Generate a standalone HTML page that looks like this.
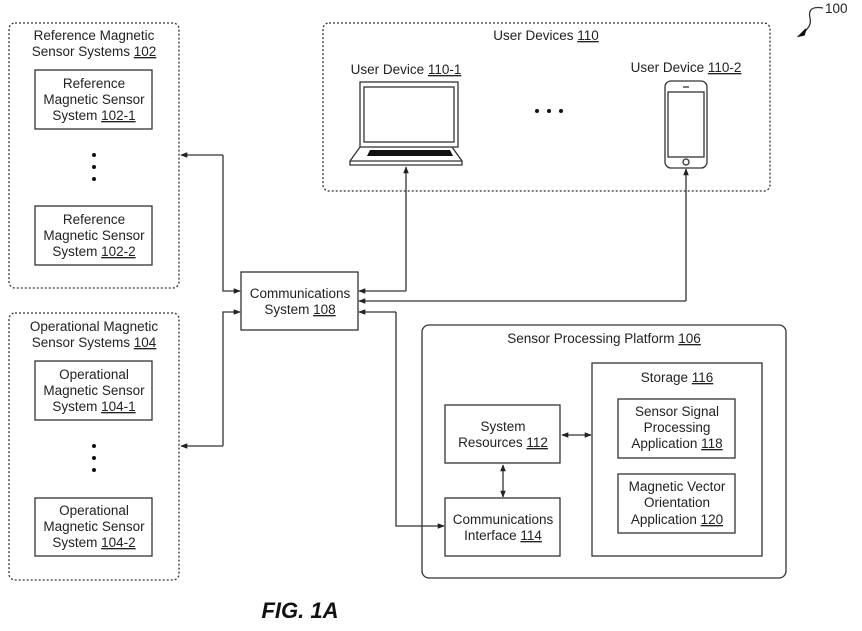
<!DOCTYPE html>
<html><head><meta charset="utf-8"><style>
html,body{margin:0;padding:0;background:#fff;}
svg{display:block;}
text{font-family:"Liberation Sans",Arial,sans-serif;font-size:13.5px;fill:#222;}
</style></head><body>
<svg width="862" height="631" viewBox="0 0 862 631" xmlns="http://www.w3.org/2000/svg">
<defs>
<marker id="a" viewBox="0 0 10 10" refX="9" refY="5" markerWidth="7" markerHeight="7" orient="auto-start-reverse" markerUnits="userSpaceOnUse"><path d="M0,1 L10,5 L0,9 z" fill="#222"/></marker>
</defs>
<g fill="none" stroke="#333" stroke-width="1.3">
<rect x="9" y="23" width="170" height="265" rx="6" stroke-dasharray="2,2"/>
<rect x="9" y="313" width="170" height="267" rx="6" stroke-dasharray="2,2"/>
<rect x="323" y="23" width="447" height="168" rx="6" stroke-dasharray="2,2"/>
<rect x="35" y="70" width="117" height="59"/>
<rect x="35" y="206" width="117" height="59"/>
<rect x="35" y="361" width="117" height="59"/>
<rect x="35" y="498" width="117" height="58"/>
<rect x="241" y="272" width="117" height="58"/>
<rect x="422" y="325" width="364" height="253" rx="7"/>
<rect x="592" y="363" width="170" height="193"/>
<rect x="445" y="405" width="115" height="58"/>
<rect x="445" y="498" width="115" height="58"/>
<rect x="618" y="399" width="117" height="59"/>
<rect x="618" y="474" width="117" height="59"/>
<rect x="360" y="82" width="98" height="65"/>
<rect x="364" y="87" width="90" height="55"/>
<path d="M360,147 L350,161 L350,165 L462,165 L462,161 L452,147"/>
<path d="M350,161 L462,161"/>
<rect x="665" y="81" width="42" height="87" rx="6"/>
<rect x="668" y="92" width="36" height="65"/>
<circle cx="686" cy="162" r="3"/>
<path d="M683,87 L689,87"/>
<path d="M223,155 L181,155" marker-end="url(#a)"/>
<path d="M223,155 L223,291 L240,291" marker-end="url(#a)"/>
<path d="M223,446 L181,446" marker-end="url(#a)"/>
<path d="M223,446 L223,312 L240,312" marker-end="url(#a)"/>
<path d="M406,291 L359,291" marker-end="url(#a)"/>
<path d="M406,291 L406,167" marker-end="url(#a)"/>
<path d="M686,301 L359,301" marker-end="url(#a)"/>
<path d="M686,301 L686,169" marker-end="url(#a)"/>
<path d="M396,312 L359,312" marker-end="url(#a)"/>
<path d="M396,312 L396,526 L444,526" marker-end="url(#a)"/>
<path d="M562,435 L591,435" marker-end="url(#a)" marker-start="url(#a)"/>
<path d="M503,465 L503,497" marker-end="url(#a)" marker-start="url(#a)"/>
<path d="M823,8 C812,6 808,10 810,18 C812,26 806,30 802,34" />
</g>
<path d="M370,150 L450,150 L453,156 L367,156 z" fill="#111"/>
<path d="M799,36 L806,29 L804,35 z" fill="#111" stroke="#111" stroke-width="1.5"/>
<g fill="#111"><circle cx="94" cy="155" r="2"/><circle cx="94" cy="167" r="2"/><circle cx="94" cy="179" r="2"/>
<circle cx="94" cy="446" r="2"/><circle cx="94" cy="458" r="2"/><circle cx="94" cy="470" r="2"/>
<circle cx="537" cy="111" r="2"/><circle cx="549" cy="111" r="2"/><circle cx="561" cy="111" r="2"/></g>
<g text-anchor="middle">
<text x="94" y="40">Reference Magnetic</text>
<text x="94" y="56">Sensor Systems <tspan text-decoration="underline">102</tspan></text>
<text x="94" y="88">Reference</text><text x="94" y="104">Magnetic Sensor</text><text x="94" y="120">System <tspan text-decoration="underline">102-1</tspan></text>
<text x="94" y="224">Reference</text><text x="94" y="240">Magnetic Sensor</text><text x="94" y="256">System <tspan text-decoration="underline">102-2</tspan></text>
<text x="94" y="331">Operational Magnetic</text>
<text x="94" y="347">Sensor Systems <tspan text-decoration="underline">104</tspan></text>
<text x="94" y="379">Operational</text><text x="94" y="395">Magnetic Sensor</text><text x="94" y="411">System <tspan text-decoration="underline">104-1</tspan></text>
<text x="94" y="515">Operational</text><text x="94" y="531">Magnetic Sensor</text><text x="94" y="547">System <tspan text-decoration="underline">104-2</tspan></text>
<text x="300" y="298">Communications</text><text x="300" y="314">System <tspan text-decoration="underline">108</tspan></text>
<text x="546" y="40">User Devices <tspan text-decoration="underline">110</tspan></text>
<text x="406" y="74">User Device <tspan text-decoration="underline">110-1</tspan></text>
<text x="686" y="72">User Device <tspan text-decoration="underline">110-2</tspan></text>
<text x="604" y="343">Sensor Processing Platform <tspan text-decoration="underline">106</tspan></text>
<text x="677" y="382">Storage <tspan text-decoration="underline">116</tspan></text>
<text x="503" y="431">System</text><text x="503" y="447">Resources <tspan text-decoration="underline">112</tspan></text>
<text x="503" y="524">Communications</text><text x="503" y="540">Interface <tspan text-decoration="underline">114</tspan></text>
<text x="677" y="416">Sensor Signal</text><text x="677" y="432">Processing</text><text x="677" y="448">Application <tspan text-decoration="underline">118</tspan></text>
<text x="677" y="491">Magnetic Vector</text><text x="677" y="507">Orientation</text><text x="677" y="524">Application <tspan text-decoration="underline">120</tspan></text>
</g>
<text x="825" y="13">100</text>
<text x="300" y="618" text-anchor="middle" style="font-size:22px;font-weight:bold;font-style:italic;fill:#111">FIG. 1A</text>
</svg>
</body></html>
